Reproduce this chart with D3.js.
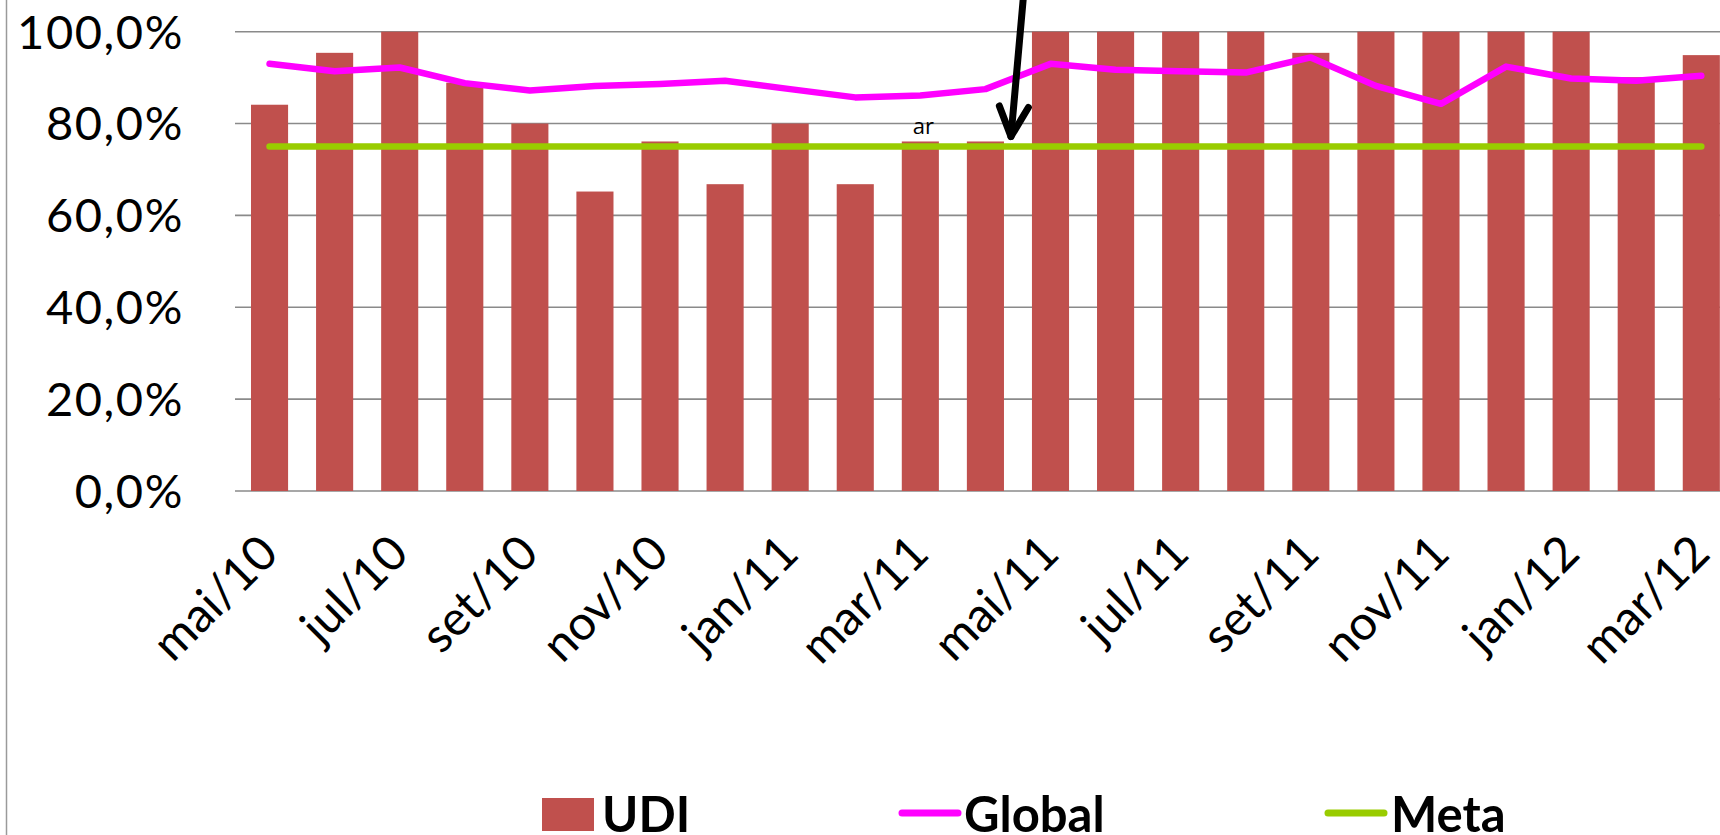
<!DOCTYPE html>
<html>
<head>
<meta charset="utf-8">
<script src="https://cdn.jsdelivr.net/npm/d3@7"></script>
<style>
  html, body { margin: 0; padding: 0; background: #fff; overflow: hidden; }
  svg { display: block; }
</style>
</head>
<body>
<svg id="chart" width="1720" height="835"></svg>
<script>
// Monthly categories (mai/2010 – mar/2012)
const months = ["mai/10","jun/10","jul/10","ago/10","set/10","out/10","nov/10","dez/10",
  "jan/11","fev/11","mar/11","abr/11","mai/11","jun/11","jul/11","ago/11","set/11",
  "out/11","nov/11","dez/11","jan/12","fev/12","mar/12"];

// Only every second month carries a label on the axis
const monthLabels = ["mai/10","jul/10","set/10","nov/10","jan/11","mar/11",
  "mai/11","jul/11","set/11","nov/11","jan/12","mar/12"];

// UDI (bars), in percent
const udi = [84.1, 95.4, 100, 88.9, 80.0, 65.2, 76.1, 66.8, 80.0, 66.8, 76.1, 76.1,
  100, 100, 100, 100, 95.4, 100, 100, 100, 100, 90.1, 94.9];

// Global (line), in percent
const global = [93.0, 91.4, 92.2, 88.8, 87.2, 88.2, 88.6, 89.3, 87.5, 85.7, 86.1, 87.5,
  93.0, 91.7, 91.4, 91.1, 94.4, 88.2, 84.3, 92.4, 89.8, 89.3, 90.4];

// Meta (target line), in percent
const meta = months.map(() => 75);

// Value axis ticks
const yTicks = [0, 20, 40, 60, 80, 100];

const legendItems = ["UDI", "Global", "Meta"];

const fmtPct = v => v.toFixed(1).replace(".", ",") + "%";

const svg = d3.select("#chart");

const x = d3.scaleBand()
  .domain(months)
  .range([237, 237 + 65.08 * months.length])
  .paddingInner(0.43)
  .paddingOuter(0.215);

const y = d3.scaleLinear().domain([0, 100]).range([491, 31.7]);

const cx = m => x(m) + x.bandwidth() / 2;

// chart-area border on the left
svg.append("line")
  .attr("x1", 6.5).attr("x2", 6.5).attr("y1", 0).attr("y2", 835)
  .attr("stroke", "#9a9a9a").attr("stroke-width", 1.5);

// horizontal gridlines
svg.append("g").selectAll("line").data(yTicks).join("line")
  .attr("x1", 235).attr("x2", 1720)
  .attr("y1", d => y(d)).attr("y2", d => y(d))
  .attr("stroke", "#8a8a8a").attr("stroke-width", 1.6);

// value-axis labels
svg.append("g").selectAll("text").data(yTicks).join("text")
  .attr("x", 184).attr("y", d => y(d))
  .attr("dy", "0.36em")
  .attr("text-anchor", "end")
  .attr("font-family", "Lato, sans-serif")
  .attr("font-size", 47)
  .attr("letter-spacing", 1.6)
  .attr("fill", "#000")
  .text(d => fmtPct(d));

// UDI bars
svg.append("g").selectAll("rect").data(months).join("rect")
  .attr("x", d => x(d))
  .attr("width", x.bandwidth())
  .attr("y", (d, i) => y(udi[i]))
  .attr("height", (d, i) => y(0) - y(udi[i]))
  .attr("fill", "#C0504D");

// Meta line
const line = d3.line().x((d, i) => cx(months[i])).y(d => y(d));
svg.append("path")
  .datum(meta)
  .attr("d", line)
  .attr("fill", "none")
  .attr("stroke", "#99CC00")
  .attr("stroke-width", 6.5)
  .attr("stroke-linecap", "round");

// Global line
svg.append("path")
  .datum(global)
  .attr("d", line)
  .attr("fill", "none")
  .attr("stroke", "#FF00FF")
  .attr("stroke-width", 6.5)
  .attr("stroke-linejoin", "round")
  .attr("stroke-linecap", "round");

// stray text fragment above the mar/11 bar
const iMar11 = months.indexOf("mar/11");
svg.append("text")
  .attr("x", cx("mar/11") + 3)
  .attr("y", y(udi[iMar11]) - 7)
  .attr("text-anchor", "middle")
  .attr("font-family", "'Open Sans', sans-serif")
  .attr("font-size", 22)
  .attr("fill", "#000")
  .text("ar");

// category labels, rotated
svg.append("g").selectAll("text").data(monthLabels).join("text")
  .attr("transform", d => `translate(${cx(d) - 1},${y(0) + 53}) rotate(-45)`)
  .attr("dy", "0.35em")
  .attr("text-anchor", "end")
  .attr("font-family", "Lato, sans-serif")
  .attr("font-size", 48)
  .attr("fill", "#000")
  .text(d => d);

// annotation arrow pointing at the abr/11 – mai/11 boundary
const tipX = x("mai/11") - x.step() * x.paddingInner() / 2 - 7;
const tipY = y(75) - 10;
const arrow = svg.append("g")
  .attr("stroke", "#000").attr("stroke-width", 7)
  .attr("stroke-linecap", "round").attr("stroke-linejoin", "round")
  .attr("fill", "none");
arrow.append("path").attr("d", `M${tipX + 12.7},-6 L${tipX},${tipY}`);
arrow.append("path").attr("d",
  `M${tipX - 11.6},${tipY - 30.6} L${tipX},${tipY} L${tipX + 17.4},${tipY - 29}`);

// legend
const legend = svg.append("g")
  .attr("font-family", "Lato, sans-serif")
  .attr("font-weight", 700)
  .attr("font-size", 49)
  .attr("fill", "#000");

const legendX = { "UDI": 542, "Global": 902, "Meta": 1328 };
const legendBaseline = 832;

legend.append("rect")
  .attr("x", legendX["UDI"]).attr("y", 798)
  .attr("width", 52).attr("height", 33)
  .attr("fill", "#C0504D");

legend.append("line")
  .attr("x1", legendX["Global"]).attr("x2", legendX["Global"] + 56)
  .attr("y1", 813).attr("y2", 813)
  .attr("stroke", "#FF00FF").attr("stroke-width", 7).attr("stroke-linecap", "round");

legend.append("line")
  .attr("x1", legendX["Meta"]).attr("x2", legendX["Meta"] + 56)
  .attr("y1", 813).attr("y2", 813)
  .attr("stroke", "#99CC00").attr("stroke-width", 7).attr("stroke-linecap", "round");

const textOffset = { "UDI": 60, "Global": 62, "Meta": 63 };
legend.selectAll("text").data(legendItems).join("text")
  .attr("x", d => legendX[d] + textOffset[d])
  .attr("y", legendBaseline)
  .text(d => d);
</script>
</body>
</html>
